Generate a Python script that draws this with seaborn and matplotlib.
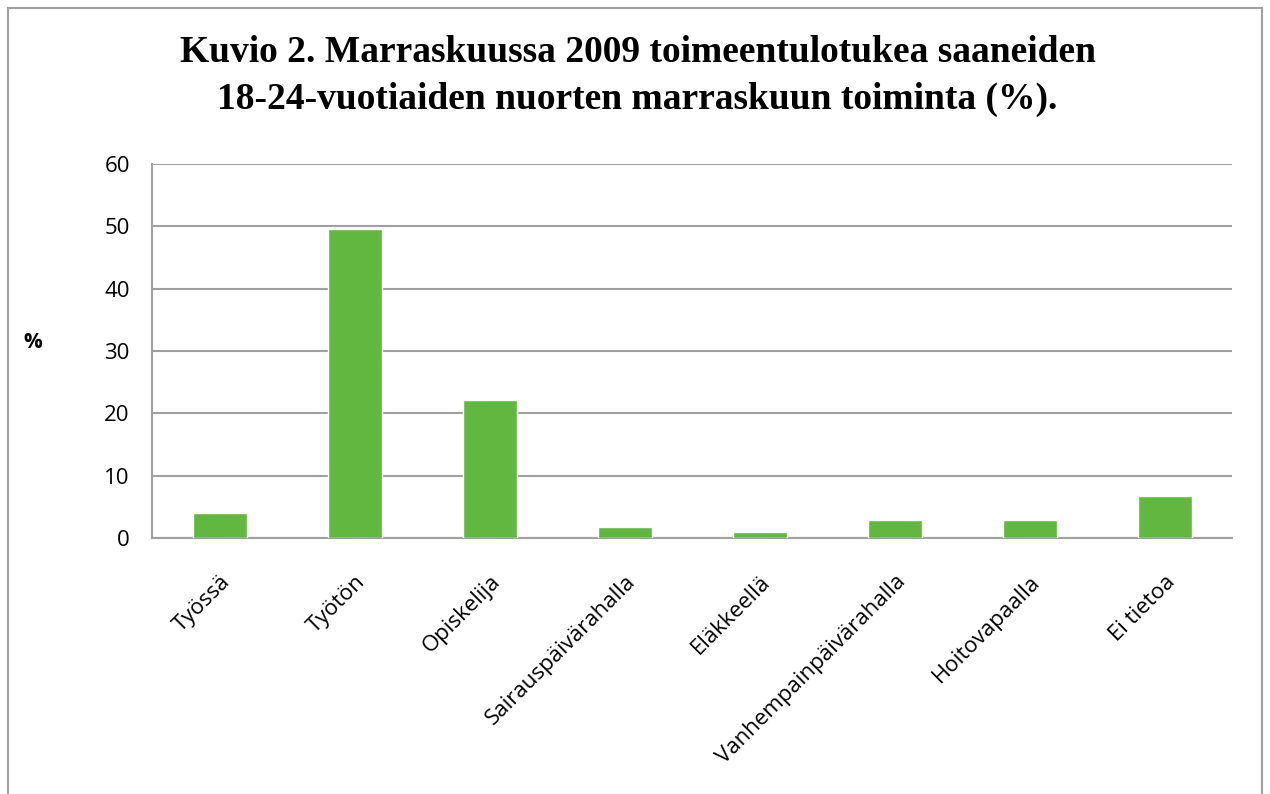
import matplotlib
matplotlib.use("Agg")
import matplotlib.pyplot as plt
import seaborn as sns
import pandas as pd
from matplotlib.patches import Rectangle

# Kuvio 2 - toimeentulotukea saaneet 18-24-vuotiaat, marraskuu 2009
luokat = ['Työssä', 'Työtön', 'Opiskelija', 'Sairauspäivärahalla', 'Eläkkeellä',
          'Vanhempainpäivärahalla', 'Hoitovapaalla', 'Ei tietoa']
osuudet = [4.0, 49.5, 22.1, 1.8, 0.9, 2.9, 2.9, 6.8]
y_ticks = [0, 10, 20, 30, 40, 50, 60]

df = pd.DataFrame({'toiminta': luokat, 'osuus': osuudet})

sns.set_style("white")
plt.rcParams['font.family'] = ['Open Sans', 'DejaVu Sans']
plt.rcParams['text.color'] = 'black'
plt.rcParams['xtick.labelcolor'] = 'black'
plt.rcParams['ytick.labelcolor'] = 'black'

fig = plt.figure(figsize=(12.7, 7.94), dpi=100)
ax = fig.add_axes([0.1197, 0.3224, 0.8506, 0.4711])

sns.barplot(data=df, x='toiminta', y='osuus', color='#62b741', width=0.4,
            saturation=1, ax=ax, zorder=3)

ax.set_ylim(0, 60)
ax.set_xlim(-0.5, len(luokat) - 0.5)
ax.set_yticks(y_ticks)
ax.set_yticklabels([str(v) for v in y_ticks], fontsize=16)
ax.yaxis.grid(True, color='#a0a0a0', linewidth=1.5, zorder=0)
ax.set_axisbelow(True)

# x-akselin viivat kategorioiden rajoille
ax.set_xticks(range(len(luokat)))
ax.set_xticklabels(luokat, rotation=45, ha='right', rotation_mode='anchor', fontsize=16)
ax.set_xticks([i - 0.5 for i in range(len(luokat) + 1)], minor=True)
ax.tick_params(axis='x', which='major', length=0, pad=24)
ax.tick_params(axis='x', which='minor', length=8, width=1.5, color='#a0a0a0')
ax.tick_params(axis='y', length=8, width=1.5, color='#a0a0a0', pad=8)

for s in ['top', 'right']:
    ax.spines[s].set_visible(False)
for s in ['left', 'bottom']:
    ax.spines[s].set_color('#a0a0a0')
    ax.spines[s].set_linewidth(1.5)

ax.set_xlabel('')
ax.set_ylabel('')
fig.text(0.026, 0.569, '%', fontsize=15, fontweight='bold', ha='center', va='center')

fig.text(0.502, 0.904, 'Kuvio 2. Marraskuussa 2009 toimeentulotukea saaneiden\n'
         '18-24-vuotiaiden nuorten marraskuun toiminta (%).',
         ha='center', va='center', fontsize=27, fontweight='bold',
         family=['Liberation Serif', 'DejaVu Serif'], linespacing=1.45)

# kaavion kehys
fig.patches.append(Rectangle((0.0065, -0.01), 0.987, 1.0, transform=fig.transFigure,
                             fill=False, edgecolor='#a0a0a0', linewidth=1.5))

fig.savefig('out.png', dpi=100)
